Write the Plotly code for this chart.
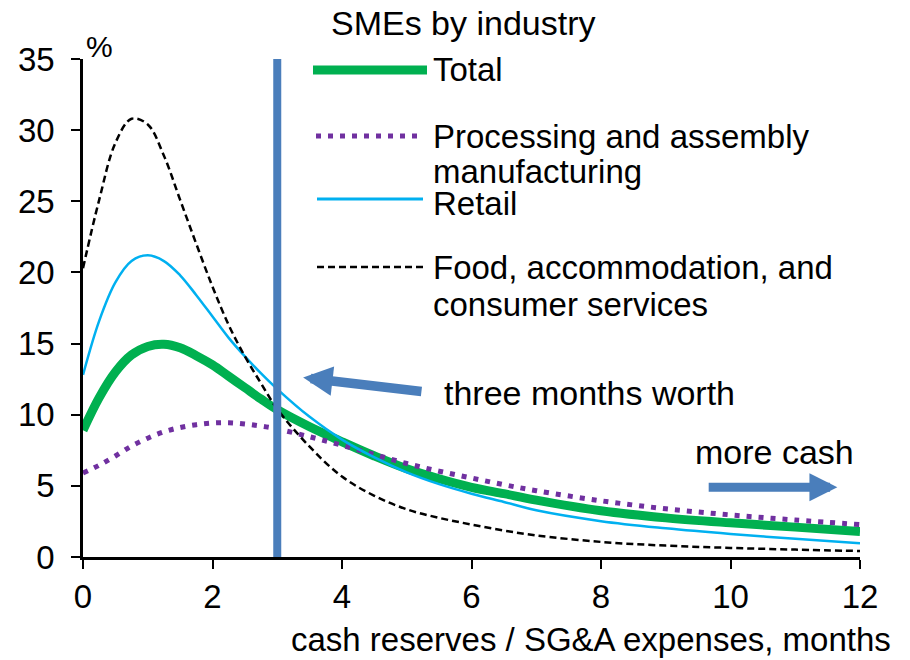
import plotly.graph_objects as go

# ---------------- data ----------------
months = [0, 0.25, 0.5, 0.75, 1, 1.25, 1.5, 1.75, 2, 2.25, 2.5, 2.75, 3,
          3.5, 4, 4.5, 5, 5.5, 6, 6.5, 7, 8, 9, 10, 11, 12]
total = [8.9, 11.2, 13.0, 14.2, 14.8, 14.95, 14.7, 14.15, 13.5, 12.7, 11.9, 11.1, 10.35,
         9.15, 8.1, 7.1, 6.2, 5.5, 4.9, 4.45, 4.0, 3.25, 2.75, 2.4, 2.1, 1.8]
processing = [5.9, 6.45, 7.1, 7.8, 8.35, 8.8, 9.1, 9.3, 9.42, 9.44, 9.35, 9.2, 9.0,
              8.45, 7.85, 7.2, 6.57, 6.03, 5.55, 5.08, 4.66, 3.95, 3.39, 2.96, 2.6, 2.28]
retail = [12.8, 16.6, 19.3, 20.8, 21.2, 20.8, 19.8, 18.4, 16.9, 15.4, 14.1, 12.9, 11.8,
          9.85, 8.25, 7.0, 5.95, 5.12, 4.45, 3.87, 3.28, 2.52, 2.02, 1.62, 1.28, 0.96]
food = [20.3, 25.1, 29.1, 30.8, 30.4, 28.2, 25.1, 22.0, 19.0, 16.3, 14.1, 12.2, 10.4,
        7.75, 5.65, 4.3, 3.35, 2.75, 2.28, 1.86, 1.52, 1.06, 0.8, 0.64, 0.52, 0.42]

series_names = ["Total", "Processing and assembly<br>manufacturing", "Retail",
                "Food, accommodation, and<br>consumer services"]
threshold_month = 3
y_range = [0, 35]
x_range = [0, 12]
x_ticks = [0, 2, 4, 6, 8, 10, 12]
y_ticks = [0, 5, 10, 15, 20, 25, 30, 35]

# ---------------- layout helpers ----------------
W, H = 910, 660
L, R, T, B = 83, 50, 59, 103
PW, PH = W - L - R, H - T - B


def fx(px):
    return (px - L) / PW


def fy(py):
    return (H - B - py) / PH


FONT = "Arial, 'Liberation Sans', sans-serif"
FS = 33
FT = 34
GREEN = "#00B050"
PURPLE = "#7030A0"
CYAN = "#00B0F0"
BLUE = "#4A7EBB"

fig = go.Figure()
fig.add_trace(go.Scatter(x=months, y=total, mode="lines", name="Total",
                         line=dict(color=GREEN, width=9, shape="spline"), showlegend=False))
fig.add_trace(go.Scatter(x=months, y=processing, mode="lines", name="Processing and assembly manufacturing",
                         line=dict(color=PURPLE, width=5, shape="spline", dash="5px,7px"), showlegend=False))
fig.add_trace(go.Scatter(x=months, y=retail, mode="lines", name="Retail",
                         line=dict(color=CYAN, width=2.5, shape="spline"), showlegend=False))
fig.add_trace(go.Scatter(x=months, y=food, mode="lines", name="Food, accommodation, and consumer services",
                         line=dict(color="black", width=2.5, shape="spline", dash="7px,4px"), showlegend=False))
fig.add_trace(go.Scatter(x=[threshold_month, threshold_month], y=y_range, mode="lines",
                         line=dict(color=BLUE, width=8), showlegend=False, hoverinfo="skip"))

shapes = []
annotations = []

# manual legend
legend_rows = [
    (70, dict(color=GREEN, width=9), 313, 427, [series_names[0]], [69]),
    (136, dict(color=PURPLE, width=5, dash="5px,7px"), 316, 422,
     ["Processing and assembly", "manufacturing"], [136, 171]),
    (199, dict(color=CYAN, width=3), 317, 423, ["Retail"], [203]),
    (267, dict(color="black", width=2.5, dash="7px,4px"), 317, 423,
     ["Food, accommodation, and", "consumer services"], [267, 304]),
]
for ly, lstyle, x0, x1, texts, tys in legend_rows:
    shapes.append(dict(type="line", xref="paper", yref="paper", x0=fx(x0), x1=fx(x1),
                       y0=fy(ly), y1=fy(ly), line=lstyle))
    for t, ty in zip(texts, tys):
        annotations.append(dict(text=t, xref="paper", yref="paper", x=fx(431), y=fy(ty),
                                xanchor="left", yanchor="middle", showarrow=False,
                                font=dict(size=FS, color="black", family=FONT)))

annotations.append(dict(text="SMEs by industry", xref="paper", yref="paper", x=fx(329), y=fy(23),
                        xanchor="left", yanchor="middle", showarrow=False,
                        font=dict(size=FT, color="black", family=FONT)))
annotations.append(dict(text="%", xref="paper", yref="paper", x=fx(84), y=fy(47),
                        xanchor="left", yanchor="middle", showarrow=False,
                        font=dict(size=30, color="black", family=FONT)))
annotations.append(dict(text="cash reserves / SG&A expenses, months", xref="paper", yref="paper",
                        x=fx(893), y=fy(639), xanchor="right", yanchor="middle", showarrow=False,
                        font=dict(size=FS, color="black", family=FONT)))

# arrows and notes
annotations.append(dict(text="", x=3.40, y=12.61, ax=5.25, ay=11.62, xref="x", yref="y",
                        axref="x", ayref="y", showarrow=True, arrowhead=2, arrowsize=0.62,
                        arrowwidth=9.5, arrowcolor=BLUE))
annotations.append(dict(text="three months worth", x=5.55, y=11.55, xref="x", yref="y",
                        xanchor="left", yanchor="middle", showarrow=False,
                        font=dict(size=FT, color="black", family=FONT)))
annotations.append(dict(text="", x=11.65, y=4.9, ax=9.64, ay=4.9, xref="x", yref="y",
                        axref="x", ayref="y", showarrow=True, arrowhead=2, arrowsize=0.62,
                        arrowwidth=9, arrowcolor=BLUE))
annotations.append(dict(text="more cash", x=9.42, y=7.39, xref="x", yref="y",
                        xanchor="left", yanchor="middle", showarrow=False,
                        font=dict(size=FT, color="black", family=FONT)))

fig.update_layout(
    width=W, height=H,
    margin=dict(l=L, r=R, t=T, b=B, autoexpand=False),
    paper_bgcolor="white", plot_bgcolor="white",
    font=dict(family=FONT, size=FS, color="black"),
    shapes=shapes, annotations=annotations,
    showlegend=False,
)
fig.update_xaxes(range=x_range, tickvals=x_ticks, ticks="outside", ticklen=9, tickwidth=2,
                 tickcolor="black", showline=True, linecolor="black", linewidth=2.5,
                 showgrid=False, zeroline=False, tickfont=dict(size=FS, family=FONT))
fig.update_yaxes(range=y_range, tickvals=y_ticks, ticks="outside", ticklen=9, tickwidth=2,
                 tickcolor="black", showline=True, linecolor="black", linewidth=2.5,
                 showgrid=False, zeroline=False, ticklabelstandoff=10,
                 tickfont=dict(size=FS, family=FONT))

fig.write_html("out.html", config={"displayModeBar": False},
               post_script="document.body.style.margin='0';document.body.style.overflow='hidden';")
